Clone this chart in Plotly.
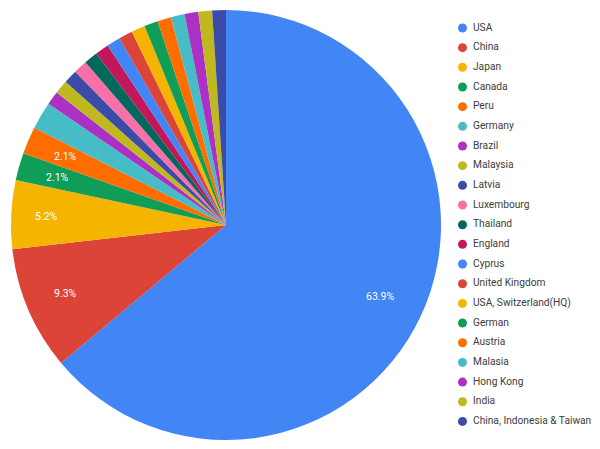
import math
import plotly.graph_objects as go

countries = ["USA", "China", "Japan", "Canada", "Peru", "Germany", "Brazil", "Malaysia", "Latvia",
             "Luxembourg", "Thailand", "England", "Cyprus", "United Kingdom", "USA, Switzerland(HQ)",
             "German", "Austria", "Malasia", "Hong Kong", "India", "China, Indonesia & Taiwan"]
counts = [62, 9, 5, 2, 2, 2, 1, 1, 1, 1, 1, 1, 1, 1, 1, 1, 1, 1, 1, 1, 1]
labels_shown = ["63.9%", "9.3%", "5.2%", "2.1%", "2.1%"] + [""] * 16
colors = ["#4285f4", "#db4437", "#f4b400", "#0f9d58", "#ff6d00", "#46bdc6", "#ab30c4", "#c0b81f",
          "#3b4ba8", "#f770a8", "#00695c", "#c2185b", "#4285f4", "#db4437", "#f4b400", "#0f9d58",
          "#ff6d00", "#46bdc6", "#ab30c4", "#c0b81f", "#3b4ba8"]

W, H = 600, 449
cx, cy, R = 226, 225, 215
label_r = {"63.9%": 170, "5.2%": 180}
default_label_r = 175
row0, row_h = 28, 19.67
marker_x, text_x = 462.5, 473

fig = go.Figure()
fig.add_trace(go.Pie(
    labels=countries, values=counts, sort=False, direction="clockwise", rotation=0,
    textinfo="none",
    marker=dict(colors=colors, line=dict(width=0)),
    domain=dict(x=[(cx - R) / W, (cx + R) / W], y=[1 - (cy + R) / H, 1 - (cy - R) / H]),
    showlegend=False,
))

# Legend: one row per country on a hidden row axis
rows = list(range(len(countries)))
fig.add_trace(go.Scatter(
    x=[marker_x] * len(rows), y=rows, mode="markers", showlegend=False, hoverinfo="skip",
    marker=dict(color=colors, size=9, symbol="circle"),
))
fig.add_trace(go.Scatter(
    x=[text_x] * len(rows), y=rows, mode="text", text=countries, textposition="middle right",
    textfont=dict(family="Roboto", size=10.2, color="#3c3c3c"), showlegend=False, hoverinfo="skip",
))

# Slice labels on each slice's bisector
total = sum(counts)
running = 0
annotations = []
for value, label in zip(counts, labels_shown):
    theta = 2 * math.pi * (running + value / 2) / total
    running += value
    if label:
        r = label_r.get(label, default_label_r)
        annotations.append(dict(
            x=cx + r * math.sin(theta), xref="x",
            y=(cy - r * math.cos(theta) - row0) / row_h, yref="y",
            text=label, showarrow=False, xanchor="center", yanchor="middle",
            font=dict(family="Roboto", size=10.5, color="white"),
        ))

fig.update_layout(
    width=W, height=H, autosize=False, paper_bgcolor="white", plot_bgcolor="rgba(0,0,0,0)",
    margin=dict(l=0, r=0, t=0, b=0, autoexpand=False),
    xaxis=dict(visible=False, range=[0, W], fixedrange=True),
    yaxis=dict(visible=False, range=[(H - row0) / row_h, -row0 / row_h], fixedrange=True),
    showlegend=False,
    annotations=annotations,
)
fig.write_html("out.html", post_script="document.body.style.margin='0';",
               config=dict(displayModeBar=False))
